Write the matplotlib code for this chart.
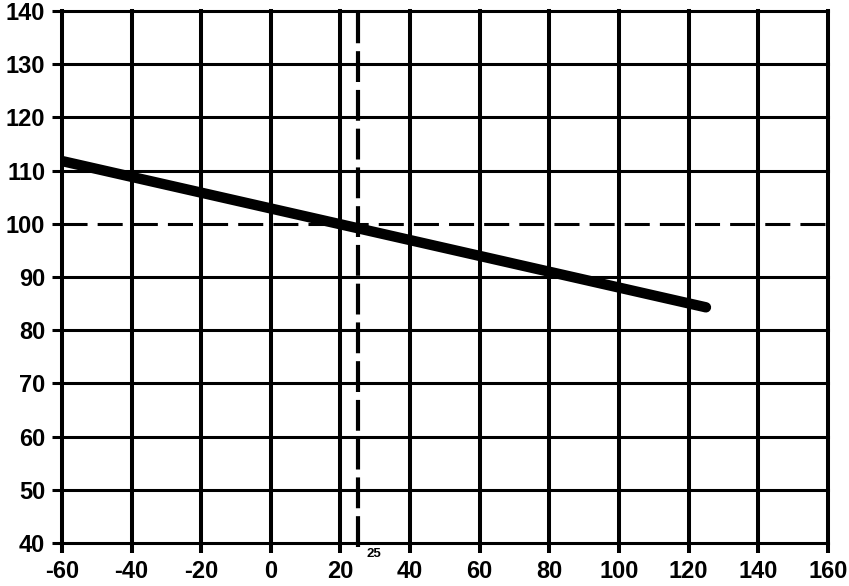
import matplotlib.pyplot as plt

# Data
line_x = [-60, 125]
line_y = [111.8, 84.3]
ref_y = 100
ref_x = 25
x_ticks = [-60, -40, -20, 0, 20, 40, 60, 80, 100, 120, 140, 160]
y_ticks = [40, 50, 60, 70, 80, 90, 100, 110, 120, 130, 140]

plt.rcParams['font.family'] = ['Liberation Sans Narrow', 'Liberation Sans', 'DejaVu Sans']
plt.rcParams['font.weight'] = 'bold'
plt.rcParams['axes.unicode_minus'] = False

fig = plt.figure(figsize=(8.49, 5.86), dpi=100)
ax = fig.add_axes([0.073, 0.0734, 0.902, 0.9078])

# grid drawn by hand so the edge lines are full width
for x in x_ticks:
    ax.axvline(x, color='black', lw=2.9, clip_on=False, zorder=1)
for y in y_ticks:
    if y == ref_y:
        continue
    ax.axhline(y, color='black', lw=2.2, clip_on=False, zorder=1)

ax.axhline(ref_y, color='black', lw=2.2, dashes=(8.2, 3.3), zorder=3)

ax.plot([ref_x, ref_x], [39.3, 140], color='black', lw=3.0, dashes=(7.4, 1.9),
        zorder=3, clip_on=False)
ax.annotate(str(ref_x), xy=(ref_x, 40), xytext=(16, -11), textcoords='offset pixels',
            fontsize=9.5, fontweight='bold', ha='center', va='center')

ax.plot(line_x, line_y, color='black', lw=7.5, solid_capstyle='round', zorder=4)

ax.set_xlim(-60, 160)
ax.set_ylim(40, 140)
ax.set_xticks(x_ticks)
ax.set_yticks(y_ticks)
ax.tick_params(axis='both', direction='out', length=7, color='black', labelsize=17)
ax.tick_params(axis='x', width=2.9, pad=5)
ax.tick_params(axis='y', width=2.2, pad=5)
for s in ax.spines.values():
    s.set_visible(False)

fig.savefig('out.png', dpi=100)
